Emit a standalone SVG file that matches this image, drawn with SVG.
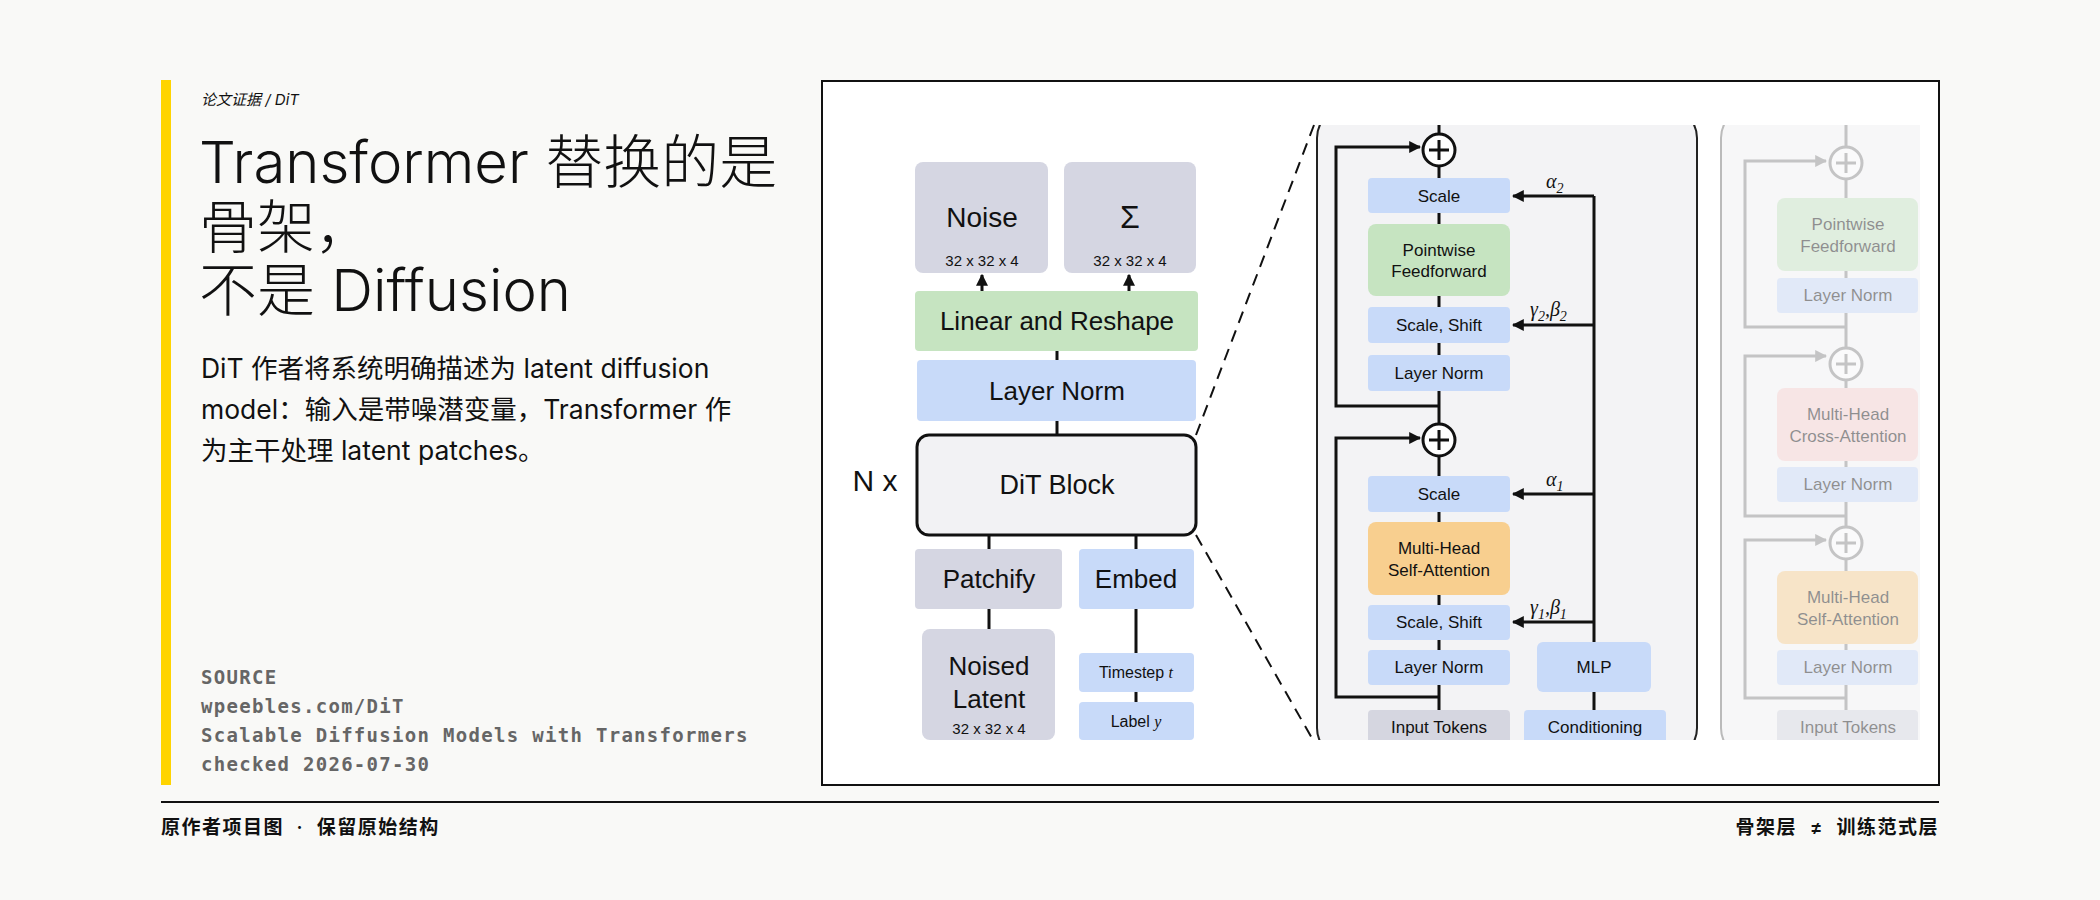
<svg xmlns="http://www.w3.org/2000/svg" width="2100" height="900" viewBox="0 0 2100 900">
<defs>
<style>
.t{font-family:Inter,"Noto Sans CJK SC",sans-serif;fill:#111}
.d{font-family:"Liberation Sans",Arial,sans-serif;fill:#111;text-anchor:middle;dominant-baseline:central}
.m{font-family:"DejaVu Sans Mono","Liberation Mono",monospace;fill:#666;font-weight:bold;font-size:19px;letter-spacing:1.3px}
.gray{fill:#d5d6e2}.blue{fill:#c8daf9}.green{fill:#c6e4c1}.orange{fill:#f8cf8f}.pink{fill:#f8d0d0}
.ln{stroke:#111;stroke-width:3;fill:none}
.gl{stroke:#888;stroke-width:3;fill:none}
.it{font-family:"Liberation Serif","DejaVu Serif",serif;font-style:italic;font-size:20px;fill:#111}
.pre{white-space:pre}
</style>
<marker id="ah" viewBox="0 0 10 10" refX="9" refY="5" markerWidth="4" markerHeight="4" orient="auto"><path d="M0,0L10,5L0,10z" fill="#111"/></marker>
<marker id="ahg" viewBox="0 0 10 10" refX="9" refY="5" markerWidth="4" markerHeight="4" orient="auto"><path d="M0,0L10,5L0,10z" fill="#888"/></marker>
<clipPath id="cp"><rect x="1196" y="125" width="724" height="615"/></clipPath>
</defs>
<rect width="2100" height="900" fill="#f9f9f7"/>
<rect x="161" y="80" width="10" height="705" fill="#ffd400"/>
<text class="t" x="201" y="105" font-size="15" font-style="italic" fill="#333">论文证据 / DiT</text>
<g class="t" font-size="58" font-weight="300">
<text x="199" y="183">Transformer 替换的是</text>
<text x="199" y="248">骨架，</text>
<text x="199" y="311">不是 Diffusion</text>
</g>
<g class="t" font-size="26.5">
<text x="201" y="378">DiT 作者将系统明确描述为 latent diffusion</text>
<text x="201" y="419">model：输入是带噪潜变量，Transformer 作</text>
<text x="201" y="460">为主干处理 latent patches。</text>
</g>
<g class="m">
<text x="201" y="684">SOURCE</text>
<text x="201" y="713">wpeebles.com/DiT</text>
<text x="201" y="742">Scalable Diffusion Models with Transformers</text>
<text x="201" y="771">checked 2026-07-30</text>
</g>
<line x1="161" y1="802" x2="1939" y2="802" stroke="#111" stroke-width="2"/>
<text class="t pre" x="161" y="834" font-size="19" font-weight="600" letter-spacing="1.5">原作者项目图  ·  保留原始结构</text>
<text class="t pre" x="1939" y="834" font-size="19" font-weight="600" letter-spacing="1.5" text-anchor="end">骨架层  ≠  训练范式层</text>

<rect x="822" y="81" width="1117" height="704" fill="#fff" stroke="#111" stroke-width="2"/>

<g id="connectors">
<line class="ln" x1="982" y1="291" x2="982" y2="275" stroke-width="2" marker-end="url(#ah)"/>
<line class="ln" x1="1129" y1="291" x2="1129" y2="275" stroke-width="2" marker-end="url(#ah)"/>
<line class="ln" x1="1057" y1="351" x2="1057" y2="360"/>
<line class="ln" x1="1057" y1="421" x2="1057" y2="435"/>
<line class="ln" x1="989" y1="535" x2="989" y2="549"/>
<line class="ln" x1="1136" y1="535" x2="1136" y2="549"/>
<line class="ln" x1="989" y1="609" x2="989" y2="629"/>
<line class="ln" x1="1136" y1="609" x2="1136" y2="653"/>
<line class="ln" x1="1136" y1="692" x2="1136" y2="702"/>
<line x1="1196" y1="435" x2="1314" y2="125" stroke="#111" stroke-width="2" stroke-dasharray="12,8"/>
<line x1="1196" y1="535" x2="1313" y2="740" stroke="#111" stroke-width="2" stroke-dasharray="12,8"/>
</g>

<g id="noise"><rect class="gray" x="915" y="162" width="133" height="111" rx="8"/><text class="d" x="982" y="217" font-size="28">Noise</text><text class="d" x="982" y="260" font-size="15">32 x 32 x 4</text></g>
<g id="sigma"><rect class="gray" x="1064" y="162" width="132" height="111" rx="8"/><text class="d" x="1130" y="217" font-size="32">Σ</text><text class="d" x="1130" y="260" font-size="15">32 x 32 x 4</text></g>
<g id="linear"><rect class="green" x="915" y="291" width="283" height="60" rx="4"/><text class="d" x="1057" y="321" font-size="26">Linear and Reshape</text></g>
<g id="layernorm"><rect class="blue" x="917" y="360" width="279" height="61" rx="4"/><text class="d" x="1057" y="391" font-size="26">Layer Norm</text></g>
<g id="ditblock"><rect x="917" y="435" width="279" height="100" rx="12" fill="#f2f2f4" stroke="#111" stroke-width="3"/><text class="d" x="1057" y="485" font-size="27">DiT Block</text></g>
<text class="d" x="875" y="480" font-size="30">N x</text>
<g id="patchify"><rect class="gray" x="915" y="549" width="147" height="60" rx="4"/><text class="d" x="989" y="579" font-size="26">Patchify</text></g>
<g id="embed"><rect class="blue" x="1079" y="549" width="115" height="60" rx="4"/><text class="d" x="1136" y="579" font-size="26">Embed</text></g>
<g id="noised"><rect class="gray" x="922" y="629" width="133" height="111" rx="8"/><text class="d" x="989" y="666" font-size="26">Noised</text><text class="d" x="989" y="699" font-size="26">Latent</text><text class="d" x="989" y="728" font-size="15">32 x 32 x 4</text></g>
<g id="timestep"><rect class="blue" x="1079" y="653" width="115" height="39" rx="4"/><text class="d" x="1136" y="672" font-size="16">Timestep <tspan font-family="Liberation Serif,serif" font-style="italic">t</tspan></text></g>
<g id="label"><rect class="blue" x="1079" y="702" width="115" height="38" rx="4"/><text class="d" x="1136" y="721" font-size="16">Label <tspan font-family="Liberation Serif,serif" font-style="italic">y</tspan></text></g>

<g clip-path="url(#cp)">
<rect x="1317" y="108" width="380" height="650" rx="30" fill="#f3f3f5" stroke="#222" stroke-width="2"/>
<rect x="1721" y="108" width="260" height="650" rx="30" fill="#f7f7f8" stroke="#bbb" stroke-width="2"/>
<g id="mid-connectors">
<line class="ln" x1="1439" y1="120" x2="1439" y2="740"/>
<polyline class="ln" points="1439,406 1336,406 1336,147 1420,147" marker-end="url(#ah)"/>
<polyline class="ln" points="1439,697 1336,697 1336,438 1420,438" marker-end="url(#ah)"/>
<line class="ln" x1="1594" y1="196" x2="1594" y2="710"/>
<line class="ln" x1="1594" y1="196" x2="1513" y2="196" marker-end="url(#ah)"/>
<line class="ln" x1="1594" y1="325" x2="1513" y2="325" marker-end="url(#ah)"/>
<line class="ln" x1="1594" y1="494" x2="1513" y2="494" marker-end="url(#ah)"/>
<line class="ln" x1="1594" y1="622" x2="1513" y2="622" marker-end="url(#ah)"/>
</g>
<g id="plus1"><circle cx="1439" cy="150" r="16" fill="#fff" stroke="#111" stroke-width="3"/><path d="M1429,150h20M1439,140v20" class="ln" stroke-width="2.5"/></g>
<g id="plus2"><circle cx="1439" cy="440" r="16" fill="#fff" stroke="#111" stroke-width="3"/><path d="M1429,440h20M1439,430v20" class="ln" stroke-width="2.5"/></g>
<g id="scale2"><rect class="blue" x="1368" y="178" width="142" height="35" rx="4"/><text class="d" x="1439" y="196" font-size="17">Scale</text></g>
<g id="ffn"><rect class="green" x="1368" y="224" width="142" height="72" rx="8"/><text class="d" x="1439" y="250" font-size="17">Pointwise</text><text class="d" x="1439" y="271" font-size="17">Feedforward</text></g>
<g id="ss2"><rect class="blue" x="1368" y="307" width="142" height="36" rx="4"/><text class="d" x="1439" y="325" font-size="17">Scale, Shift</text></g>
<g id="ln2"><rect class="blue" x="1368" y="355" width="142" height="36" rx="4"/><text class="d" x="1439" y="373" font-size="17">Layer Norm</text></g>
<g id="scale1"><rect class="blue" x="1368" y="476" width="142" height="36" rx="4"/><text class="d" x="1439" y="494" font-size="17">Scale</text></g>
<g id="mhsa"><rect class="orange" x="1368" y="522" width="142" height="73" rx="8"/><text class="d" x="1439" y="548" font-size="17">Multi-Head</text><text class="d" x="1439" y="570" font-size="17">Self-Attention</text></g>
<g id="ss1"><rect class="blue" x="1368" y="605" width="142" height="35" rx="4"/><text class="d" x="1439" y="622" font-size="17">Scale, Shift</text></g>
<g id="ln1"><rect class="blue" x="1368" y="650" width="142" height="35" rx="4"/><text class="d" x="1439" y="667" font-size="17">Layer Norm</text></g>
<g id="input"><rect x="1368" y="710" width="142" height="50" rx="4" fill="#d5d6e0"/><text class="d" x="1439" y="727" font-size="17">Input Tokens</text></g>
<g id="mlp"><rect class="blue" x="1537" y="642" width="114" height="50" rx="6"/><text class="d" x="1594" y="667" font-size="17">MLP</text></g>
<g id="cond"><rect class="blue" x="1524" y="710" width="142" height="50" rx="4"/><text class="d" x="1595" y="727" font-size="17">Conditioning</text></g>
<text class="it" x="1546" y="188">α<tspan font-size="14" dy="5">2</tspan></text>
<text class="it" x="1530" y="316">γ<tspan font-size="14" dy="5">2</tspan><tspan dy="-5">,β</tspan><tspan font-size="14" dy="5">2</tspan></text>
<text class="it" x="1546" y="486">α<tspan font-size="14" dy="5">1</tspan></text>
<text class="it" x="1530" y="614">γ<tspan font-size="14" dy="5">1</tspan><tspan dy="-5">,β</tspan><tspan font-size="14" dy="5">1</tspan></text>

<g id="right-panel" opacity="0.45">
<line class="gl" x1="1846" y1="120" x2="1846" y2="740"/>
<polyline class="gl" points="1846,327 1745,327 1745,161 1826,161" marker-end="url(#ahg)"/>
<polyline class="gl" points="1846,516 1745,516 1745,356 1826,356" marker-end="url(#ahg)"/>
<polyline class="gl" points="1846,698 1745,698 1745,540 1826,540" marker-end="url(#ahg)"/>
<circle cx="1846" cy="163" r="16" fill="#fff" stroke="#888" stroke-width="3"/><path d="M1836,163h20M1846,153v20" class="gl"/>
<circle cx="1846" cy="364" r="16" fill="#fff" stroke="#888" stroke-width="3"/><path d="M1836,364h20M1846,354v20" class="gl"/>
<circle cx="1846" cy="543" r="16" fill="#fff" stroke="#888" stroke-width="3"/><path d="M1836,543h20M1846,533v20" class="gl"/>
<rect class="green" x="1777" y="198" width="141" height="73" rx="8"/><text class="d" x="1848" y="224" font-size="17" fill="#555">Pointwise</text><text class="d" x="1848" y="246" font-size="17" fill="#555">Feedforward</text>
<rect class="blue" x="1777" y="278" width="141" height="35" rx="4"/><text class="d" x="1848" y="295" font-size="17" fill="#555">Layer Norm</text>
<rect class="pink" x="1777" y="388" width="141" height="73" rx="8"/><text class="d" x="1848" y="414" font-size="17" fill="#555">Multi-Head</text><text class="d" x="1848" y="436" font-size="17" fill="#555">Cross-Attention</text>
<rect class="blue" x="1777" y="467" width="141" height="35" rx="4"/><text class="d" x="1848" y="484" font-size="17" fill="#555">Layer Norm</text>
<rect class="orange" x="1777" y="571" width="141" height="73" rx="8"/><text class="d" x="1848" y="597" font-size="17" fill="#555">Multi-Head</text><text class="d" x="1848" y="619" font-size="17" fill="#555">Self-Attention</text>
<rect class="blue" x="1777" y="650" width="141" height="35" rx="4"/><text class="d" x="1848" y="667" font-size="17" fill="#555">Layer Norm</text>
<rect x="1777" y="710" width="141" height="50" rx="4" fill="#d5d6e0"/><text class="d" x="1848" y="727" font-size="17" fill="#555">Input Tokens</text>
</g>
</g>
</svg>
